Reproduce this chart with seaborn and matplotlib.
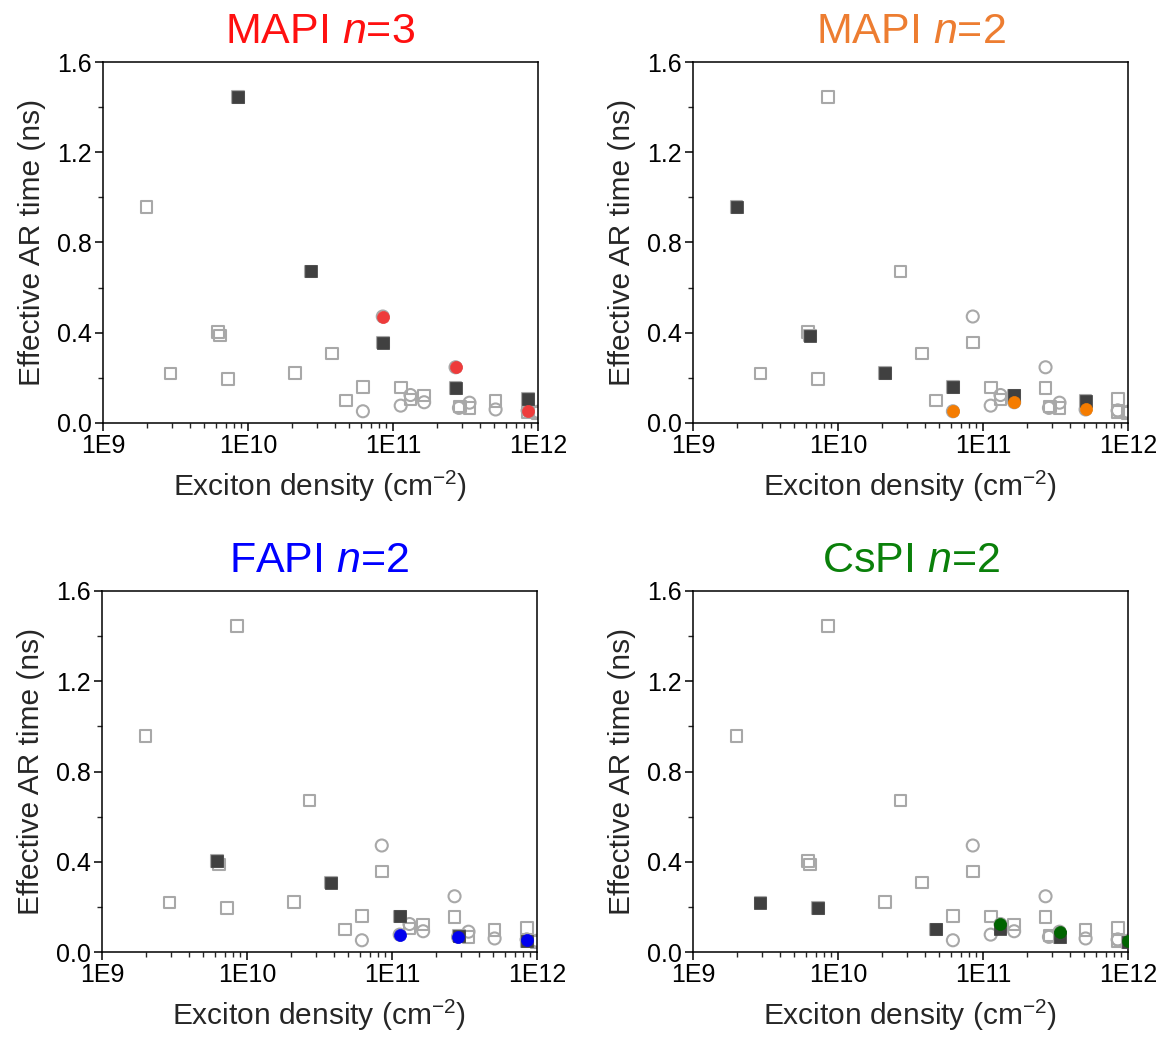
import numpy as np
import pandas as pd
import matplotlib
matplotlib.use("Agg")
import matplotlib.pyplot as plt
import matplotlib.ticker as mticker
import seaborn as sns

# data (squares = dark filled, circles = coloured)
mapi3_sq_x = [8.5e9, 2.7e10, 8.5e10, 2.7e11, 8.5e11]
mapi3_sq_y = [1.445, 0.672, 0.356, 0.155, 0.107]
mapi3_ci_x = [8.5e10, 2.7e11, 8.5e11]
mapi3_ci_y = [0.472, 0.247, 0.055]

mapi2_sq_x = [2.0e9, 6.4e9, 2.1e10, 6.2e10, 1.64e11, 5.1e11]
mapi2_sq_y = [0.958, 0.387, 0.222, 0.159, 0.122, 0.097]
mapi2_ci_x = [6.2e10, 1.64e11, 5.1e11]
mapi2_ci_y = [0.052, 0.092, 0.060]

fapi2_sq_x = [6.2e9, 3.78e10, 1.14e11, 2.9e11, 8.5e11]
fapi2_sq_y = [0.402, 0.308, 0.158, 0.073, 0.050]
fapi2_ci_x = [1.13e11, 2.85e11, 8.5e11]
fapi2_ci_y = [0.077, 0.067, 0.055]

cspi2_sq_x = [2.92e9, 7.3e9, 4.75e10, 1.32e11, 3.37e11, 1.0e12]
cspi2_sq_y = [0.219, 0.194, 0.100, 0.104, 0.067, 0.045]
cspi2_ci_x = [1.32e11, 3.37e11, 1.0e12]
cspi2_ci_y = [0.124, 0.090, 0.050]

panels = ["MAPI", "MAPI", "FAPI", "CsPI"]
panel_n = ["3", "2", "2", "2"]
title_colors = ["#ff1010", "#ed7d31", "#0000ff", "#0a800a"]
circle_colors = ["#ee3b3b", "#f57c00", "#0000ee", "#006400"]

sq_x = [mapi3_sq_x, mapi2_sq_x, fapi2_sq_x, cspi2_sq_x]
sq_y = [mapi3_sq_y, mapi2_sq_y, fapi2_sq_y, cspi2_sq_y]
ci_x = [mapi3_ci_x, mapi2_ci_x, fapi2_ci_x, cspi2_ci_x]
ci_y = [mapi3_ci_y, mapi2_ci_y, fapi2_ci_y, cspi2_ci_y]

rows = []
for i in range(4):
    for x, y in zip(sq_x[i], sq_y[i]):
        rows.append((i, "square", x, y))
    for x, y in zip(ci_x[i], ci_y[i]):
        rows.append((i, "circle", x, y))
df = pd.DataFrame(rows, columns=["panel", "shape", "density", "time"])

sns.set_style("ticks")
plt.rcParams["font.family"] = ["Liberation Sans", "DejaVu Sans"]
plt.rcParams["mathtext.fontset"] = "custom"
plt.rcParams["mathtext.rm"] = "Liberation Sans"
plt.rcParams["mathtext.it"] = "Liberation Sans:italic"

fig = plt.figure(figsize=(11.67, 10.39), dpi=100)
W, H = 1167, 1039
boxes = [(103, 62), (693, 62), (102, 591), (693, 591)]
gray = "#a8a8a8"
dark = "#404040"

for i, (lx, ty) in enumerate(boxes):
    ax = fig.add_axes([lx / W, 1 - (ty + 361) / H, 435 / W, 361 / H])
    sq_all = df[df["shape"] == "square"]
    ci_all = df[df["shape"] == "circle"]
    sns.scatterplot(data=sq_all, x="density", y="time", marker="s", s=70,
                    facecolor="none", edgecolor=gray, linewidth=1.5, ax=ax, zorder=2)
    sns.scatterplot(data=ci_all, x="density", y="time", marker="o", s=75,
                    facecolor="none", edgecolor=gray, linewidth=1.5, ax=ax, zorder=2)
    own = df[df["panel"] == i]
    sns.scatterplot(data=own[own["shape"] == "square"], x="density", y="time",
                    marker="s", s=70, color=dark, edgecolor=dark, linewidth=0.5,
                    ax=ax, zorder=3)
    sns.scatterplot(data=own[own["shape"] == "circle"], x="density", y="time",
                    marker="o", s=75, color=circle_colors[i], edgecolor=circle_colors[i],
                    linewidth=0.5, ax=ax, zorder=4)

    ax.set_xscale("log")
    ax.set_xlim(1e9, 1e12)
    ax.set_ylim(0, 1.6)
    ax.xaxis.set_major_locator(mticker.LogLocator(base=10, numticks=10))
    ax.xaxis.set_minor_locator(mticker.LogLocator(base=10, subs=np.arange(2, 10), numticks=10))
    ax.xaxis.set_minor_formatter(mticker.NullFormatter())
    ax.xaxis.set_major_formatter(mticker.FuncFormatter(lambda v, p: "1E%d" % round(np.log10(v))))
    ax.yaxis.set_major_locator(mticker.MultipleLocator(0.4))
    ax.yaxis.set_minor_locator(mticker.MultipleLocator(0.2))
    ax.yaxis.set_major_formatter(mticker.FormatStrFormatter("%.1f"))
    ax.tick_params(which="major", direction="out", length=6, width=1.1, labelsize=18,
                   colors="black", pad=2)
    ax.tick_params(which="minor", direction="out", length=3.5, width=1.0)
    for sp in ax.spines.values():
        sp.set_visible(True)
        sp.set_linewidth(1.1)
        sp.set_color("black")
    ax.set_xlabel("Exciton density (cm$^{-2}$)", fontsize=21.5, labelpad=8)
    ax.set_ylabel("Effective AR time (ns)", fontsize=21.5, labelpad=8)
    ax.set_title("%s $n$=%s" % (panels[i], panel_n[i]), fontsize=31,
                 color=title_colors[i], pad=14)
    if ax.get_legend() is not None:
        ax.get_legend().remove()

fig.savefig("out.png", dpi=100)
